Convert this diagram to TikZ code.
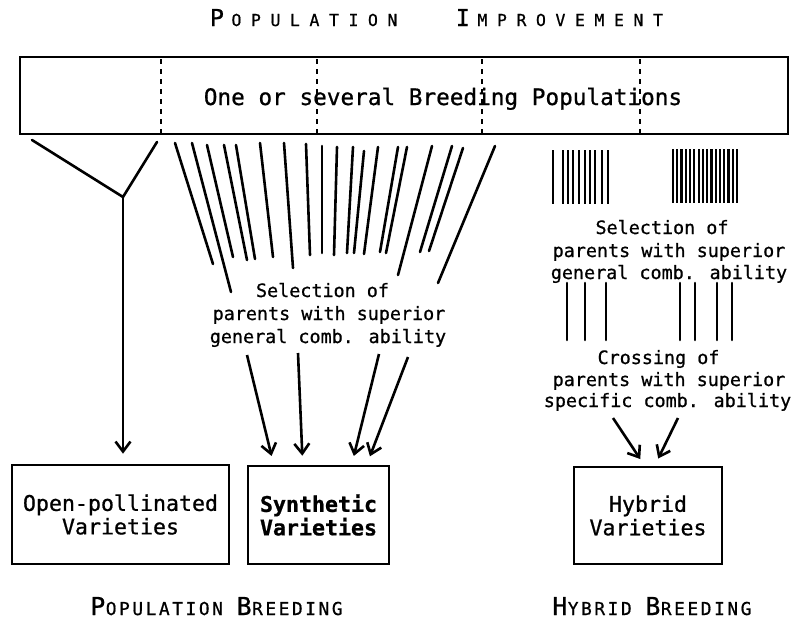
\documentclass[tikz,border=0pt]{standalone}
\usepackage{fontspec}
\setmainfont{DejaVu Sans Mono}[FakeBold=0.8]
\newfontfamily\synfont{DejaVu Sans Mono}[FakeBold=0.8]
\usetikzlibrary{arrows.meta}
\makeatletter
\newcommand\spacedcaps[3]{\@tfor\spc@x:=#3\do{\makebox[#1]{#2\spc@x}}}
\makeatother
\newcommand\ttlbig{\fontsize{23.3}{24}\selectfont}
\newcommand\ttlsmall{\fontsize{16.5}{18}\selectfont}
\newcommand\botbig{\fontsize{24.7}{26}\selectfont}
\newcommand\botsmall{\fontsize{17.8}{19}\selectfont}
\begin{document}
\begin{tikzpicture}[x=1pt,y=-1pt,
  box/.style={draw, line width=2.6pt, inner sep=0pt},
  lbl/.style={font=\fontsize{21.6}{23.5}\selectfont, align=center},
  txt/.style={font=\fontsize{18.4}{22}\selectfont, anchor=base, inner sep=0pt},
  fan/.style={line width=2.6pt, line cap=round},
  bar/.style={line width=2.2pt},
  arr/.style={line width=2.6pt, -{Straight Barb[length=10pt,width=15pt]}},
  sep/.style={line width=1.8pt, dash pattern=on 5pt off 5pt},
  ttl/.style={anchor=base west, inner sep=0pt}]
\useasboundingbox (0,0) rectangle (795,629);

% titles
\node[ttl] (t1) at (207,26) {\spacedcaps{19.5pt}{\ttlbig}{P}\spacedcaps{19.5pt}{\ttlsmall}{OPULATION}};
\node[ttl] (t2) at (453,26) {\spacedcaps{19.5pt}{\ttlbig}{I}\spacedcaps{19.5pt}{\ttlsmall}{MPROVEMENT}};

% breeding populations box
\node[box, minimum width=768pt, minimum height=77pt] (pop) at (404,95.5) {};
\foreach \x in {161,317,482,640} \draw[sep] (\x,59) -- (\x,133);
\node[font=\fontsize{22.7}{24}\selectfont, anchor=base, inner sep=0pt] (poptxt) at (443,105) {One or several Breeding Populations};

% result boxes
\node[box, lbl, minimum width=217pt, minimum height=99pt] (op) at (120.5,514.5) {Open-pollinated\\Varieties};
\node[box, lbl, font=\fontsize{21.6}{23.5}\selectfont\synfont\bfseries, minimum width=141pt, minimum height=98pt] (syn) at (318.5,515) {Synthetic\\Varieties};
\node[box, lbl, minimum width=148pt, minimum height=97pt] (hyb) at (648,515.5) {Hybrid\\Varieties};

% open-pollinated branch
\coordinate (yj) at (123,197);
\draw[fan, line join=round] (32,140) -- (yj) -- (157,142);
\draw[arr, shorten >=10pt] (yj) -- (yj |- op.north);

% fan of selected lines
\foreach \a/\b/\c/\d in {175/143/213/264, 192/143/231/292, 207/145/233/257, 224/145/247/260,
  236/145/255/259, 260/143/273/257, 284/143/293/268, 306/144/310/255, 322/146/322/253,
  337/147/334/255, 353/147/347/253, 364/151/354/253, 378/147/364/254, 398/147/380/252,
  407/147/386/253, 432/146/398/275, 452/146/420/252, 463/148/429/251, 495/146/438/283}
  \draw[fan] (\a,\b) -- (\c,\d);

% middle text
\node[txt] (s1) at (322.5,297) {Selection of};
\node[txt] (s2) at (329,320) {parents with superior};
\node[txt] (s3) at (328,343) {general comb. ability};

% arrows to synthetic
\draw[arr, shorten >=9pt] (247,355) -- ([xshift=27pt]syn.north west);
\draw[arr, shorten >=9pt] (298,353) -- ([xshift=56pt]syn.north west);
\draw[arr, shorten >=9pt] (379,354) -- ([xshift=105pt]syn.north west);
\draw[arr, shorten >=9pt] (408,357) -- ([xshift=120pt]syn.north west);

% hybrid branch
\foreach \x in {553,563,568,573,579,585,590,595,602,608} \draw[bar] (\x,150) -- (\x,204);
\foreach \i in {0,...,15} \draw[bar] ({673+4.27*\i},149) -- ({673+4.27*\i},203);
\node[txt] (r1) at (662,234) {Selection of};
\node[txt] (r2) at (669,257) {parents with superior};
\node[txt] (r3) at (669,279) {general comb. ability};
\foreach \x in {567,585,606,680,695,717,732} \draw[fan] (\x,283) -- (\x,340);
\node[txt] (c1) at (658.5,364) {Crossing of};
\node[txt] (c2) at (669,386) {parents with superior};
\node[txt] (c3) at (667.5,407) {specific comb. ability};
\draw[arr, shorten >=8pt] (613,418) -- ([xshift=72pt]hyb.north west);
\draw[arr, shorten >=8pt] (678,418) -- ([xshift=82pt]hyb.north west);

% bottom titles
\node[ttl] (b1) at (91,615) {\spacedcaps{13.3pt}{\botbig}{P}\spacedcaps{13.3pt}{\botsmall}{OPULATION}\makebox[13.3pt]{}\spacedcaps{13.3pt}{\botbig}{B}\spacedcaps{13.3pt}{\botsmall}{REEDING}};
\node[ttl] (b2) at (553,615) {\spacedcaps{13.3pt}{\botbig}{H}\spacedcaps{13.3pt}{\botsmall}{YBRID}\makebox[13.3pt]{}\spacedcaps{13.3pt}{\botbig}{B}\spacedcaps{13.3pt}{\botsmall}{REEDING}};
\end{tikzpicture}
\end{document}
